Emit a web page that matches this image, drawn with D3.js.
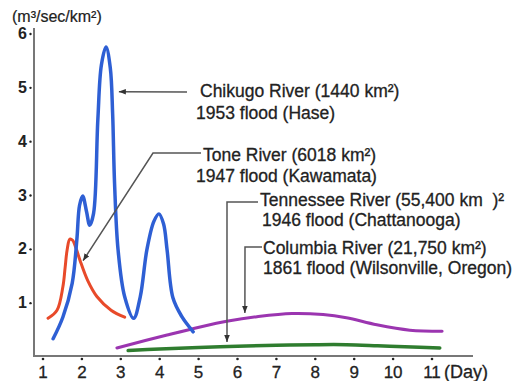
<!DOCTYPE html>
<html><head><meta charset="utf-8">
<script src="https://cdn.jsdelivr.net/npm/d3@7"></script>
<style>
html,body{margin:0;padding:0;background:#fff;}
svg{display:block;font-family:"Liberation Sans",Arial,sans-serif;}
</style></head>
<body>
<svg id="c" width="520" height="381"></svg>
<script>
// ---- data ----
const xTicks = [1,2,3,4,5,6,7,8,9,10,11];
const yTicks = [1,2,3,4,5,6];
const yTitle = "(m³/sec/km²)";
const xTitle = "(Day)";

const chikugoDays = [1.26,1.51,1.75,1.87,1.94,2.02,2.12,2.2,2.3,2.41,2.5,2.62,2.73,2.79,2.84,2.93,3.1,3.33,3.5,3.67,3.85,3.98,4.1,4.19,4.34,4.57,4.86];
const chikugoVals = [0.32,0.72,1.35,2.16,2.8,2.97,2.68,2.43,2.65,4.39,5.4,5.74,5.35,4.5,3.2,1.97,1.1,0.7,1.1,1.97,2.5,2.64,2.45,1.97,1.08,0.73,0.45];

const toneDays = [1.13,1.36,1.51,1.57,1.62,1.69,1.76,1.85,1.95,2.15,2.39,2.75,3.1];
const toneVals = [0.7,0.85,1.28,1.65,1.97,2.17,2.15,2.0,1.78,1.4,1.1,0.85,0.72];

const tennesseeDays = [2.9,4.19,5.04,5.76,6.5,7.4,8.2,8.8,9.58,10.43,11.26];
const tennesseeVals = [0.15,0.39,0.54,0.65,0.73,0.79,0.77,0.71,0.58,0.48,0.46];

const columbiaDays = [3.19,4,5,6,7,8,8.8,9.6,10.3,11.2];
const columbiaVals = [0.1,0.13,0.16,0.18,0.2,0.21,0.21,0.19,0.17,0.15];

const labels = [
  ["Chikugo River (1440 km²)", "1953 flood (Hase)"],
  ["Tone River (6018 km²)", "1947 flood (Kawamata)"],
  ["Tennessee River (55,400 km  )²", "1946 flood (Chattanooga)"],
  ["Columbia River (21,750 km²)", "1861 flood (Wilsonville, Oregon)"]
];

// ---- chart ----
const svg = d3.select("#c");
const x = d3.scaleLinear().domain([1,11]).range([43,432]);
const y = d3.scaleLinear().domain([0,6]).range([356,33]);
const txt = "#222", axisCol = "#777", leadCol = "#555";

// axes
svg.append("line").attr("x1",34).attr("x2",34).attr("y1",28).attr("y2",357)
  .attr("stroke",axisCol).attr("stroke-width",2);
svg.append("line").attr("x1",33).attr("x2",473).attr("y1",y(0)).attr("y2",y(0))
  .attr("stroke",axisCol).attr("stroke-width",2);

const yAxis = svg.append("g");
yTicks.forEach(t=>{
  yAxis.append("circle").attr("cx",30.5).attr("cy",y(t)+1).attr("r",1.2).attr("fill",txt);
  yAxis.append("text").attr("x",27).attr("y",y(t)+6).attr("text-anchor","end")
    .attr("font-size",16).attr("font-weight","bold").attr("fill",txt).text(t);
});
const xAxis = svg.append("g");
xTicks.forEach(t=>{
  xAxis.append("circle").attr("cx",x(t)).attr("cy",359).attr("r",1.3).attr("fill",txt);
  xAxis.append("text").attr("x",x(t)).attr("y",378).attr("text-anchor","middle")
    .attr("font-size",17).attr("fill",txt).attr("stroke",txt).attr("stroke-width",0.3).text(t);
});
svg.append("text").attr("x",444).attr("y",378).attr("font-size",18).attr("fill",txt)
  .attr("stroke",txt).attr("stroke-width",0.3).text(xTitle);
svg.append("text").attr("x",12).attr("y",22).attr("font-size",16).attr("fill",txt)
  .attr("stroke",txt).attr("stroke-width",0.2).text(yTitle);

// curves
const line = d3.line().x(d=>x(d[0])).y(d=>y(d[1])).curve(d3.curveCatmullRom.alpha(0.5));
function series(days, vals, color, w){
  svg.append("path").datum(days.map((d,i)=>[d,vals[i]]))
    .attr("d",line).attr("fill","none").attr("stroke",color)
    .attr("stroke-width",w).attr("stroke-linecap","round").attr("stroke-linejoin","round");
}
series(columbiaDays, columbiaVals, "#2f7d2f", 3.5);
series(tennesseeDays, tennesseeVals, "#9b35b0", 3);
series(toneDays, toneVals, "#e84a2a", 3);
series(chikugoDays, chikugoVals, "#2e5fd4", 3.5);

// annotations
svg.append("defs").append("marker").attr("id","ah").attr("viewBox","0 0 10 10")
  .attr("refX",10).attr("refY",5).attr("markerWidth",7).attr("markerHeight",7)
  .attr("markerUnits","userSpaceOnUse").attr("orient","auto")
  .append("path").attr("d","M0,1 L10,5 L0,9 Z").attr("fill","#333");

const annot = [
  {pts:[[187,92],[x(2.95),y(4.91)]], tx:[200,196], ty:[97,119]},
  {pts:[[201,153],[153,153],[x(2.03),y(1.77)]], tx:[203,196], ty:[161,182]},
  {pts:[[258,202],[227,202],[x(5.73),y(0.26)]], tx:[260,262], ty:[206,226]},
  {pts:[[262,247],[245,247],[x(6.19),y(0.8)]], tx:[263,263], ty:[254,274]}
];
annot.forEach((a,i)=>{
  svg.append("path").attr("d",d3.line()(a.pts)).attr("fill","none")
    .attr("stroke",leadCol).attr("stroke-width",1.5).attr("marker-end","url(#ah)");
  labels[i].forEach((s,j)=>{
    svg.append("text").attr("x",a.tx[j]).attr("y",a.ty[j]).attr("font-size",17.5)
      .attr("fill",txt).attr("stroke",txt).attr("stroke-width",0.3)
      .style("white-space","pre").text(s);
  });
});
</script>
</body></html>
